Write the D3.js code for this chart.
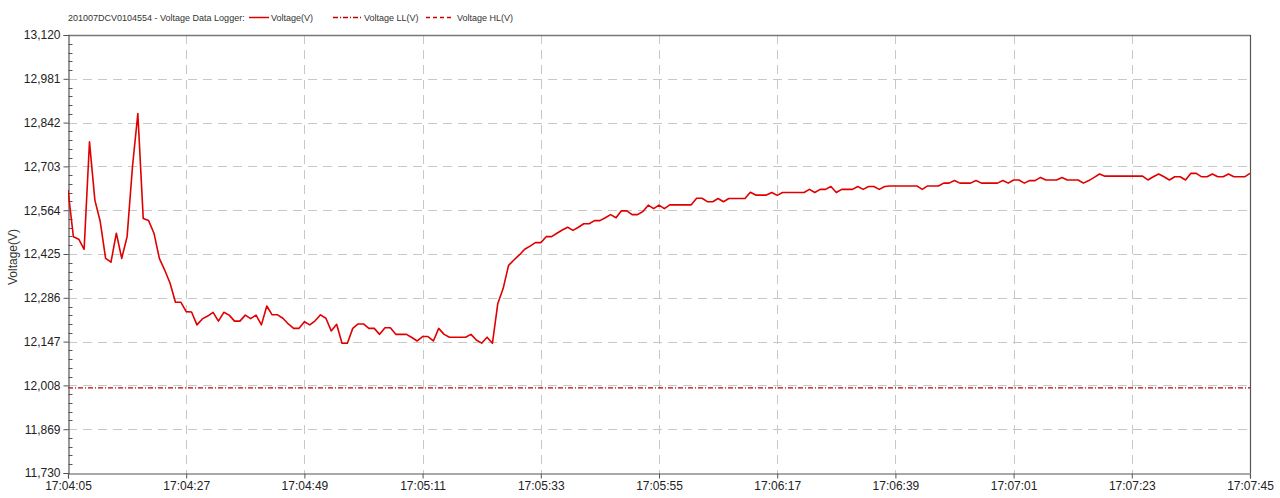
<!DOCTYPE html>
<html><head><meta charset="utf-8">
<script src="https://cdn.jsdelivr.net/npm/d3@7"></script>
<style>
html,body{margin:0;padding:0;background:#fff;}
svg{display:block;font-family:"Liberation Sans",Arial,sans-serif;}
</style></head>
<body><svg id="chart" width="1280" height="498"></svg>
<script>
const chartTitle = "201007DCV0104554 - Voltage Data Logger:";
const seriesNames = ["Voltage(V)", "Voltage LL(V)", "Voltage HL(V)"];
const startTime = "17:04:05";
const sampleSeconds = 1;
const voltage = [
12628,12480,12472,12440,12781,12596,12528,12411,12399,12491,
12411,12480,12702,12871,12538,12531,12491,12411,12374,12332,
12272,12272,12242,12241,12200,12219,12228,12240,12212,12240,
12231,12212,12212,12231,12220,12231,12200,12260,12232,12232,
12221,12203,12189,12189,12210,12200,12213,12232,12221,12181,
12202,12142,12142,12189,12203,12203,12189,12189,12170,12191,
12191,12170,12170,12170,12160,12149,12163,12163,12149,12189,
12170,12161,12161,12161,12161,12170,12152,12142,12161,12142,
12268,12316,12389,12406,12422,12440,12450,12461,12461,12480,
12480,12491,12501,12510,12500,12510,12521,12521,12531,12531,
12540,12550,12540,12562,12562,12550,12550,12560,12580,12569,
12580,12569,12581,12581,12581,12581,12581,12602,12602,12591,
12591,12601,12591,12601,12601,12601,12601,12621,12612,12612,
12612,12620,12611,12620,12620,12620,12620,12620,12630,12620,
12630,12630,12639,12620,12630,12630,12630,12639,12630,12639,
12639,12630,12639,12641,12641,12641,12641,12641,12641,12630,
12641,12641,12641,12650,12650,12658,12650,12650,12650,12658,
12650,12650,12650,12650,12658,12650,12660,12660,12650,12658,
12658,12668,12660,12660,12660,12668,12660,12660,12660,12650,
12658,12668,12679,12672,12672,12672,12672,12672,12672,12672,
12672,12660,12670,12679,12670,12660,12670,12670,12660,12681,
12681,12670,12670,12679,12670,12670,12679,12670,12670,12670,
12681
];
const lowLimit = 12000;
const highLimit = 13200;
const yTicks = [11730,11869,12008,12147,12286,12425,12564,12703,12842,12981,13120];
const xTickLabels = ["17:04:05","17:04:27","17:04:49","17:05:11","17:05:33","17:05:55","17:06:17","17:06:39","17:07:01","17:07:23","17:07:45"];

const parseT = d3.timeParse("%H:%M:%S");
const t0 = parseT(startTime);
const data = voltage.map((v,i)=>({t:new Date(t0.getTime()+i*sampleSeconds*1000), v}));
const xTickDates = xTickLabels.map(parseT);

const svg = d3.select("#chart");
const L=68, R=1250, T=35, B=473;
const x = d3.scaleTime().domain([xTickDates[0], xTickDates[xTickDates.length-1]]).range([L,R]);
const y = d3.scaleLinear().domain([yTicks[0], yTicks[yTicks.length-1]]).range([B,T]);

svg.append("defs").append("clipPath").attr("id","clip")
  .append("rect").attr("x",L).attr("y",T).attr("width",R-L).attr("height",B-T);

// grid
const grid = svg.append("g").attr("stroke","#c8c8c8").attr("stroke-width",1).attr("stroke-dasharray","9,6");
grid.selectAll("line.h").data(yTicks.slice(1,-1)).join("line")
  .attr("x1",L).attr("x2",R).attr("y1",d=>Math.round(y(d))+0.5).attr("y2",d=>Math.round(y(d))+0.5);
grid.selectAll("line.v").data(xTickDates.slice(1,-1)).join("line")
  .attr("y1",T).attr("y2",B).attr("x1",d=>Math.round(x(d))+0.5).attr("x2",d=>Math.round(x(d))+0.5);

// frame top/right
svg.append("line").attr("x1",L).attr("x2",R+0.5).attr("y1",T+0.5).attr("y2",T+0.5).attr("stroke","#777").attr("stroke-width",1.5);
svg.append("line").attr("x1",R+0.5).attr("x2",R+0.5).attr("y1",T).attr("y2",B).attr("stroke","#555").attr("stroke-width",1.2);

// limit lines
const lim = svg.append("g").attr("clip-path","url(#clip)");
lim.append("line").attr("x1",L).attr("x2",R).attr("y1",y(lowLimit)).attr("y2",y(lowLimit))
  .attr("stroke","#c00000").attr("stroke-width",1.2).attr("stroke-dasharray","5,2,1,2");
lim.append("line").attr("x1",L).attr("x2",R).attr("y1",y(highLimit)).attr("y2",y(highLimit))
  .attr("stroke","#d00000").attr("stroke-width",1.2).attr("stroke-dasharray","4,3");

// axes
const yAxis = d3.axisLeft(y).tickValues(yTicks).tickFormat(d3.format(",")).tickSize(5).tickPadding(3);
const gy = svg.append("g").attr("transform",`translate(${L+0.5},0)`).call(yAxis);
const minor = [];
for(let k=0;k<yTicks.length-1;k++){const s=(yTicks[k+1]-yTicks[k])/5;for(let j=1;j<5;j++)minor.push(yTicks[k]+j*s);}
gy.selectAll("line.minor").data(minor).join("line").attr("class","minor")
  .attr("x1",0).attr("x2",4).attr("y1",d=>Math.round(y(d))+0.5).attr("y2",d=>Math.round(y(d))+0.5).attr("stroke","#555");

const xAxis = d3.axisBottom(x).tickValues(xTickDates).tickFormat(d3.timeFormat("%H:%M:%S")).tickSize(5).tickPadding(3);
const gx = svg.append("g").attr("transform",`translate(0,${B+0.5})`).call(xAxis);

[gy,gx].forEach(g=>{
  g.select(".domain").attr("stroke","#555").attr("stroke-width",1.2);
  g.selectAll(".tick line").attr("stroke","#555");
  g.selectAll("text").attr("fill","#222").attr("font-size","12px").attr("font-family","Liberation Sans, Arial, sans-serif");
});

// y label
svg.append("text").attr("transform",`translate(17,257) rotate(-90)`).attr("text-anchor","middle")
  .attr("font-size","12px").attr("fill","#333").text("Voltage(V)");

// series
const line = d3.line().x(d=>x(d.t)).y(d=>y(d.v));
svg.append("path").datum(data).attr("clip-path","url(#clip)").attr("d",line)
  .attr("fill","none").attr("stroke","#e00000").attr("stroke-width",1.6).attr("stroke-linejoin","round");

// legend
const lg = svg.append("g").attr("font-size","9px").attr("fill","#333");
lg.append("text").attr("x",68).attr("y",21).text(chartTitle);
const items = [
  {x1:249,x2:269,tx:271,dash:null,c:"#e00000",name:seriesNames[0]},
  {x1:333,x2:362,tx:364,dash:"5,2,1,2",c:"#c00000",name:seriesNames[1]},
  {x1:426,x2:452,tx:457,dash:"4,3",c:"#d00000",name:seriesNames[2]}
];
items.forEach(it=>{
  lg.append("line").attr("x1",it.x1).attr("x2",it.x2).attr("y1",17.5).attr("y2",17.5)
    .attr("stroke",it.c).attr("stroke-width",1.5).attr("stroke-dasharray",it.dash);
  lg.append("text").attr("x",it.tx).attr("y",21).text(it.name);
});
</script></body></html>
